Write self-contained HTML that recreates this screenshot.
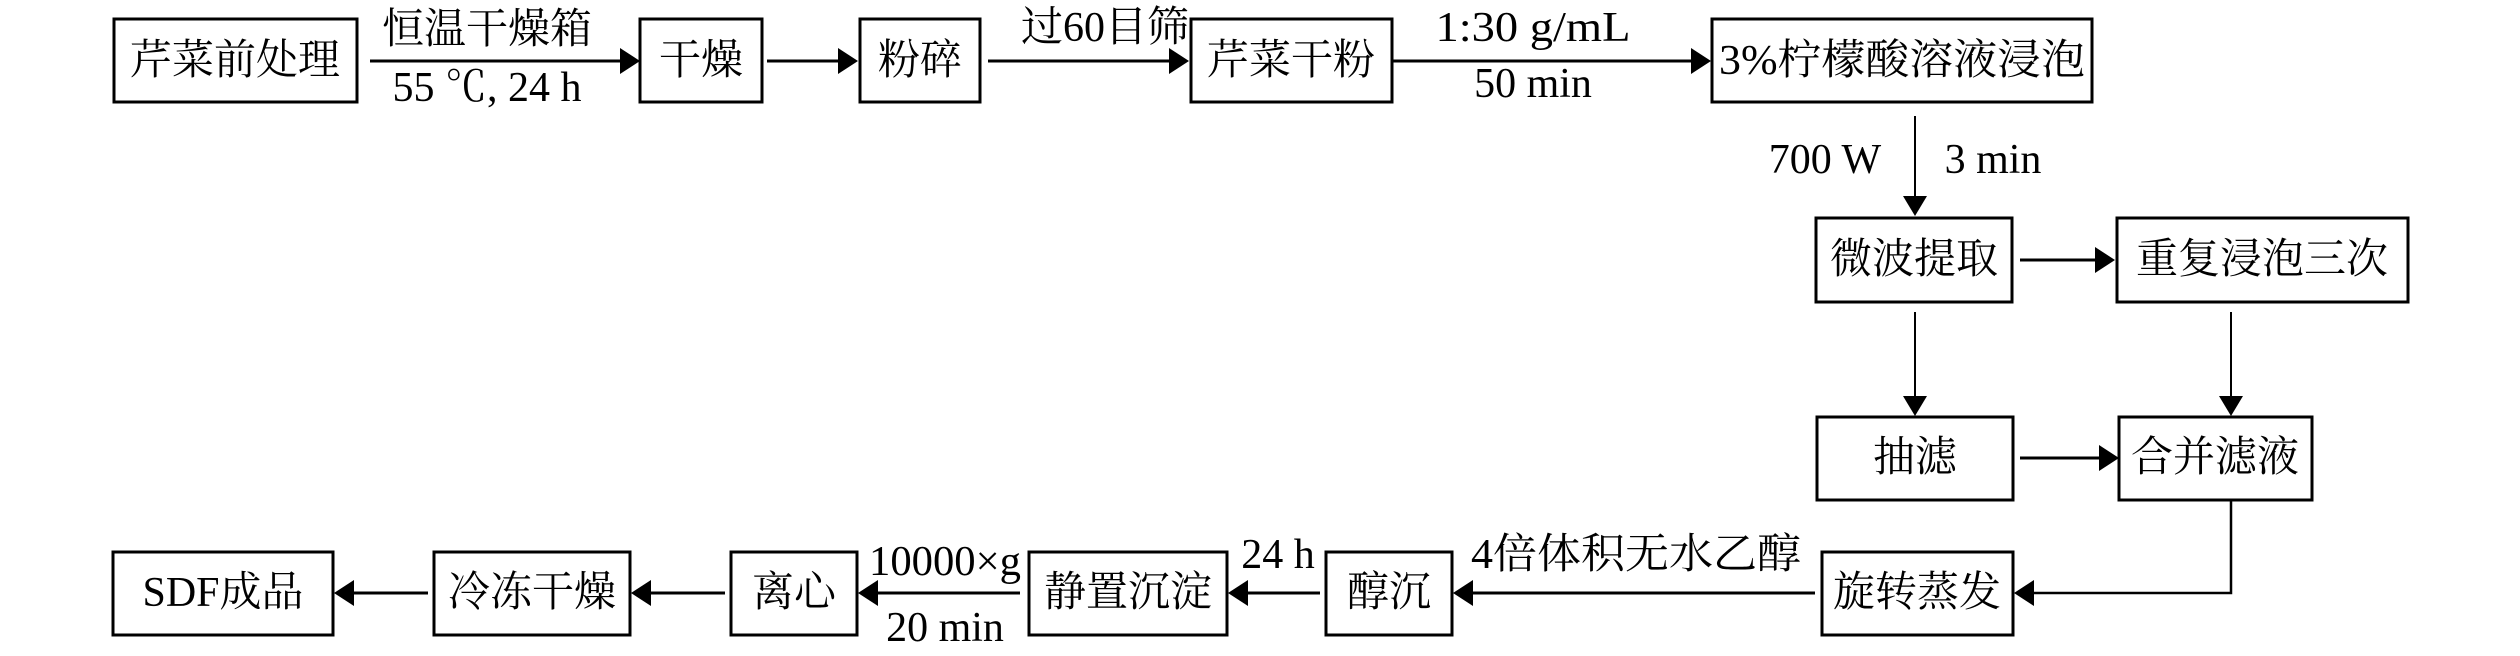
<!DOCTYPE html>
<html><head><meta charset="utf-8"><style>
html,body{margin:0;padding:0;background:#fff;}
svg{display:block;}
text{font-family:"Liberation Serif","Noto Serif CJK SC",serif;font-size:42px;fill:#000;}
</style></head><body>
<svg width="2520" height="656" viewBox="0 0 2520 656" xmlns="http://www.w3.org/2000/svg">
<g fill="#fff" stroke="#000" stroke-width="3">
<rect x="114" y="19" width="243" height="83"/>
<rect x="640" y="19" width="122" height="83"/>
<rect x="860" y="19" width="120" height="83"/>
<rect x="1191" y="19" width="201" height="83"/>
<rect x="1712" y="19" width="380" height="83"/>
<rect x="1816" y="218" width="196" height="84"/>
<rect x="2117" y="218" width="291" height="84"/>
<rect x="1817" y="417" width="196" height="83"/>
<rect x="2119" y="417" width="193" height="83"/>
<rect x="113" y="552" width="220" height="83"/>
<rect x="434" y="552" width="196" height="83"/>
<rect x="731" y="552" width="126" height="83"/>
<rect x="1029" y="552" width="198" height="83"/>
<rect x="1326" y="552" width="126" height="83"/>
<rect x="1822" y="552" width="191" height="83"/>
</g>
<g stroke="#000" stroke-width="3" fill="none">
<line x1="370" y1="61" x2="622" y2="61"/>
<line x1="767" y1="61" x2="840" y2="61"/>
<line x1="988" y1="61" x2="1170" y2="61"/>
<line x1="1393" y1="61" x2="1692" y2="61"/>
<line x1="1915" y1="116" x2="1915" y2="200" stroke-width="2"/>
<line x1="2020" y1="260" x2="2097" y2="260"/>
<line x1="1915" y1="312" x2="1915" y2="398" stroke-width="2"/>
<line x1="2231" y1="312" x2="2231" y2="398" stroke-width="2"/>
<line x1="2020" y1="458" x2="2100" y2="458"/>
<polyline points="2231,500 2231,593 2033,593" stroke-width="2.5"/>
<line x1="1815" y1="593" x2="1472" y2="593"/>
<line x1="1320" y1="593" x2="1247" y2="593"/>
<line x1="1020" y1="593" x2="877" y2="593"/>
<line x1="725" y1="593" x2="650" y2="593"/>
<line x1="428" y1="593" x2="353" y2="593"/>
</g>
<g fill="#000">
<polygon points="620,48 640,61 620,74"/>
<polygon points="838,48 858,61 838,74"/>
<polygon points="1169,48 1189,61 1169,74"/>
<polygon points="1691,48 1711,61 1691,74"/>
<polygon points="1903,196 1927,196 1915,216"/>
<polygon points="2095,247 2115,260 2095,273"/>
<polygon points="1903,396 1927,396 1915,416"/>
<polygon points="2219,396 2243,396 2231,416"/>
<polygon points="2099,445 2119,458 2099,471"/>
<polygon points="2034,580 2014,593 2034,606"/>
<polygon points="1473,580 1453,593 1473,606"/>
<polygon points="1248,580 1228,593 1248,606"/>
<polygon points="878,580 858,593 878,606"/>
<polygon points="651,580 631,593 651,606"/>
<polygon points="354,580 334,593 354,606"/>
</g>
<g text-anchor="middle" dominant-baseline="central">
<text x="235" y="61">芹菜前处理</text>
<text x="701" y="61">干燥</text>
<text x="920" y="61">粉碎</text>
<text x="1291" y="61">芹菜干粉</text>
<text x="1902" y="61" textLength="366" lengthAdjust="spacingAndGlyphs">3%柠檬酸溶液浸泡</text>
<text x="1914" y="260">微波提取</text>
<text x="2262" y="260">重复浸泡三次</text>
<text x="1915" y="458">抽滤</text>
<text x="2215" y="458">合并滤液</text>
<text x="223" y="593">SDF成品</text>
<text x="532" y="593">冷冻干燥</text>
<text x="794" y="593">离心</text>
<text x="1128" y="593">静置沉淀</text>
<text x="1389" y="593">醇沉</text>
<text x="1917" y="593">旋转蒸发</text>
<text x="487" y="30">恒温干燥箱</text>
<text x="487" y="88">55 ℃, 24 h</text>
<text x="1105" y="28">过60目筛</text>
<text x="1533" y="28" textLength="195" lengthAdjust="spacingAndGlyphs">1:30 g/mL</text>
<text x="1533" y="84">50 min</text>
<text x="1825" y="160">700 W</text>
<text x="1993" y="160">3 min</text>
<text x="945" y="562" textLength="152" lengthAdjust="spacingAndGlyphs">10000×g</text>
<text x="945" y="628">20 min</text>
<text x="1278" y="555">24 h</text>
<text x="1636" y="555" textLength="330" lengthAdjust="spacingAndGlyphs">4倍体积无水乙醇</text>
</g>
</svg>
</body></html>
